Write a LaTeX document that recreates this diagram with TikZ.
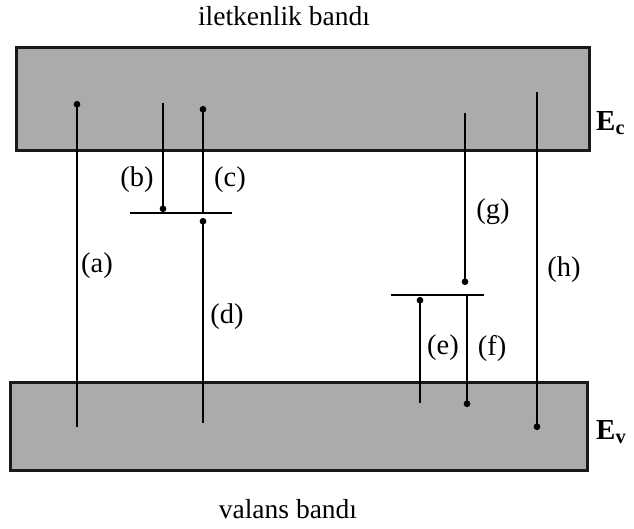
\documentclass[tikz,border=0pt]{standalone}
\usepackage{fontspec}
\setmainfont{Liberation Serif}
\usetikzlibrary{arrows.meta}
\definecolor{bandgray}{RGB}{171,171,171}
\definecolor{bandline}{RGB}{25,25,25}
\tikzset{
  band/.style={draw=bandline, fill=bandgray, line width=3pt},
  level/.style={draw=black, line width=2.4pt},
  trans/.style={draw=black, line width=2.4pt, -{Circle[length=6.5pt,width=6.5pt]}},
  lbl/.style={font=\fontsize{28.5}{30}\selectfont, inner sep=0pt},
  edge/.style={font=\fontsize{29}{30}\selectfont\bfseries, inner sep=0pt, anchor=west},
  title/.style={font=\fontsize{27.5}{30}\selectfont, inner sep=0pt, anchor=base}
}
\begin{document}
\begin{tikzpicture}[x=1pt,y=-1pt]
\useasboundingbox (0,0) rectangle (634,528);
% bands
\draw[band] (16,47) rectangle (589,150);
\draw[band] (10,382) rectangle (587,470);
% levels
\coordinate (L1a) at (130,213); \coordinate (L1b) at (232,213);
\coordinate (L2a) at (391,295); \coordinate (L2b) at (484,295);
\draw[level] (L1a) -- (L1b);
\draw[level] (L2a) -- (L2b);
% transition endpoints
\coordinate (a0) at (77,427);  \coordinate (a1) at (77,101);
\coordinate (b0) at (163,103); \coordinate (b1) at (163,212);
\coordinate (c0) at (203,213); \coordinate (c1) at (203,106);
\coordinate (d0) at (203,423); \coordinate (d1) at (203,218);
\coordinate (e0) at (420,403); \coordinate (e1) at (420,297);
\coordinate (f0) at (467,295); \coordinate (f1) at (467,407);
\coordinate (g0) at (465,113); \coordinate (g1) at (465,285);
\coordinate (h0) at (537,92);  \coordinate (h1) at (537,430);
\draw[trans] (a0) -- (a1);
\draw[trans] (b0) -- (b1);
\draw[trans] (c0) -- (c1);
\draw[trans] (d0) -- (d1);
\draw[trans] (e0) -- (e1);
\draw[trans] (f0) -- (f1);
\draw[trans] (g0) -- (g1);
\draw[trans] (h0) -- (h1);
% labels
\node[lbl] (la) at (97,266) {(a)};
\node[lbl] (lb) at (137,180) {(b)};
\node[lbl] (lc) at (230,180) {(c)};
\node[lbl] (ld) at (227,317) {(d)};
\node[lbl] (le) at (443,348) {(e)};
\node[lbl] (lf) at (492,348) {(f)};
\node[lbl] (lg) at (493,212) {(g)};
\node[lbl] (lh) at (564,270) {(h)};
\node[edge] (Ec) at (596,123) {E\textsubscript{c}};
\node[edge] (Ev) at (596,432) {E\textsubscript{v}};
\node[title] (top) at (284,25) {iletkenlik bandı};
\node[title] (bot) at (288,518) {valans bandı};
\end{tikzpicture}
\end{document}
